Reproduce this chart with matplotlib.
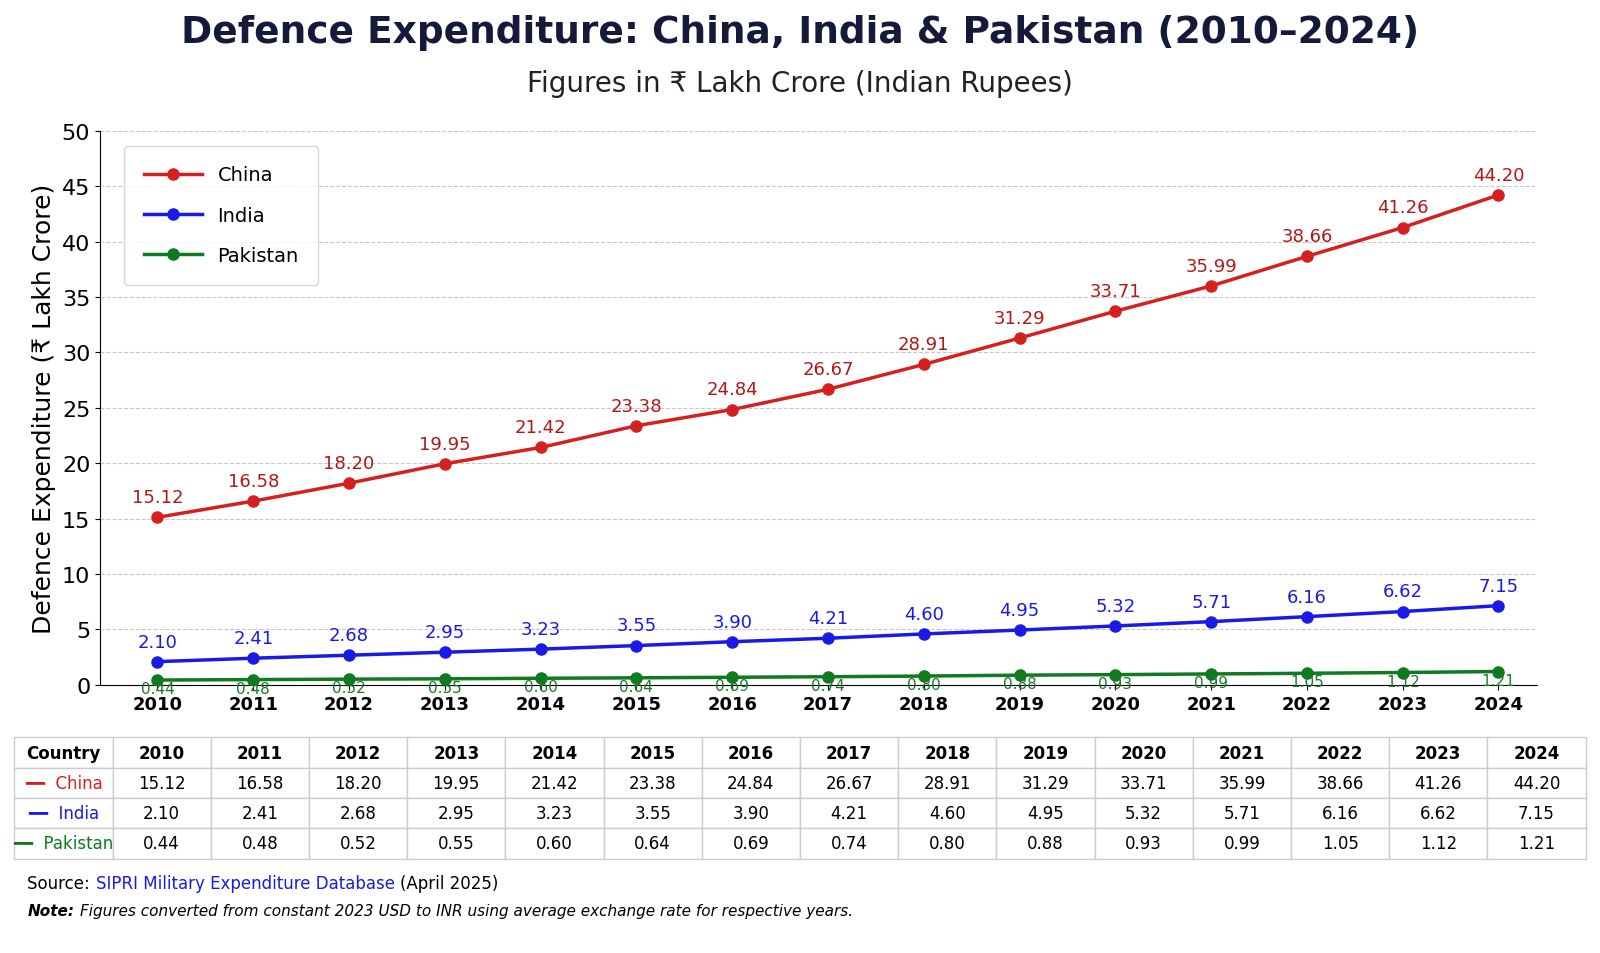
import matplotlib
matplotlib.use("Agg")
import matplotlib.pyplot as plt

years = list(range(2010, 2025))
china = [15.12, 16.58, 18.20, 19.95, 21.42, 23.38, 24.84, 26.67, 28.91, 31.29, 33.71, 35.99, 38.66, 41.26, 44.20]
india = [2.10, 2.41, 2.68, 2.95, 3.23, 3.55, 3.90, 4.21, 4.60, 4.95, 5.32, 5.71, 6.16, 6.62, 7.15]
pakistan = [0.44, 0.48, 0.52, 0.55, 0.60, 0.64, 0.69, 0.74, 0.80, 0.88, 0.93, 0.99, 1.05, 1.12, 1.21]

series = [("China", china, "#d62020", "#b01818"),
          ("India", india, "#1a1ae6", "#1a1ae6"),
          ("Pakistan", pakistan, "#0f7a1f", "#1a7a2a")]

fig = plt.figure(figsize=(16, 9.54), dpi=100)
fig.patch.set_facecolor("white")
ax = fig.add_axes([0.0625, 0.281, 0.898, 0.581])

for name, vals, col, tcol in series:
    ax.plot(years, vals, "o-", color=col, lw=2.5, ms=8, mec=col, mfc=col, label=name, zorder=3)
    for x, v in zip(years, vals):
        if name == "Pakistan":
            ax.text(x, v - 0.1, f"{v:.2f}", ha="center", va="top", fontsize=11, color=tcol)
        else:
            ax.text(x, v + 1.0, f"{v:.2f}", ha="center", va="bottom", fontsize=13, color=tcol)

ax.set_xlim(2009.4, 2024.4)
ax.set_ylim(0, 50)
ax.set_yticks(range(0, 51, 5))
ax.set_xticks(years)
ax.tick_params(axis="y", labelsize=16)
ax.tick_params(axis="x", labelsize=13)
for t in ax.get_xticklabels():
    t.set_fontweight("bold")
ax.grid(axis="y", ls="--", color="#bbbbbb", alpha=0.8)
for s in ("top", "right"):
    ax.spines[s].set_visible(False)
ax.set_ylabel("Defence Expenditure (₹ Lakh Crore)", fontsize=18)
ax.legend(loc="upper left", fontsize=14, borderpad=1, labelspacing=1.1, handlelength=3,
          bbox_to_anchor=(0.01, 0.99), fancybox=True)

fig.text(0.5, 0.965, "Defence Expenditure: China, India & Pakistan (2010–2024)",
         ha="center", va="center", fontsize=27, fontweight="bold", color="#141a3a")
fig.text(0.5, 0.912, "Figures in ₹ Lakh Crore (Indian Rupees)", ha="center", va="center",
         fontsize=20, color="#222222")

# data table
tax = fig.add_axes([0.009, 0.099, 0.982, 0.127])
tax.axis("off")
cell_text = [["━━  " + name] + [f"{v:.2f}" for v in vals] for name, vals, _, _ in series]
tbl = tax.table(cellText=cell_text, colLabels=["Country"] + [str(y) for y in years],
                loc="center", cellLoc="center", bbox=[0, 0, 1, 1])
tbl.auto_set_font_size(False)
tbl.set_fontsize(12)
for (r, c), cell in tbl.get_celld().items():
    cell.set_edgecolor("#cccccc")
    if r == 0:
        cell.get_text().set_fontweight("bold")
    elif c == 0:
        cell.get_text().set_color(series[r - 1][2])
        cell.get_text().set_fontweight("medium")

fig.text(0.017, 0.073, "Source: ", fontsize=12, va="center")
fig.text(0.06, 0.073, "SIPRI Military Expenditure Database", fontsize=12, color="#1a1ae6", va="center")
fig.text(0.25, 0.073, "(April 2025)", fontsize=12, va="center")
fig.text(0.017, 0.045, "Note:", fontsize=11, fontweight="bold", style="italic", va="center")
fig.text(0.05, 0.045, "Figures converted from constant 2023 USD to INR using average exchange rate for respective years.",
         fontsize=11, style="italic", va="center")

fig.savefig("out.png", dpi=100)
